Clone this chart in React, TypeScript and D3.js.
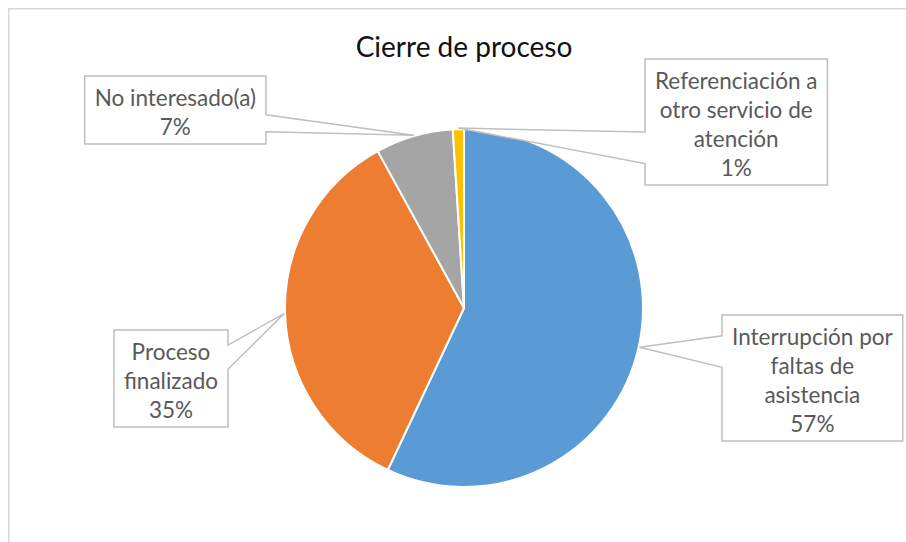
import React, { useRef, useEffect } from "react";
import * as d3 from "d3";

// chart data
const categories = [
  "Interrupción por faltas de asistencia",
  "Proceso finalizado",
  "No interesado(a)",
  "Referenciación a otro servicio de atención",
];
const values = [57, 35, 7, 1];
const labelLines = [
  ["Interrupción por", "faltas de", "asistencia"],
  ["Proceso", "finalizado"],
  ["No interesado(a)"],
  ["Referenciación a", "otro servicio de", "atención"],
];
const colors = ["#5B9BD5", "#ED7D31", "#A5A5A5", "#FFC000"];
const title = "Cierre de proceso";

// callout placement (which side the pointer leaves from, box edge, box top, notch start as share of height)
const calloutLayout = [
  { side: "left", edge: 722, top: 315, notch: 0.165 },
  { side: "right", edge: 228, top: 330, notch: 0.155 },
  { side: "right", edge: 266, top: 76, notch: 0.57 },
  { side: "left", edge: 645, top: 59, notch: 0.58 },
];

const W = 906;
const H = 542;
const FONT = "Lato, 'Open Sans', sans-serif";

const App = () => {
  const svgRef = useRef<SVGSVGElement>(null);

  useEffect(() => {
    const svg = d3.select(svgRef.current);
    svg.selectAll("*").remove();

    // chart frame (runs off the right/bottom edge like the screenshot)
    svg
      .append("rect")
      .attr("x", 8.75)
      .attr("y", 8.75)
      .attr("width", W + 20)
      .attr("height", H + 20)
      .attr("fill", "#fff")
      .attr("stroke", "#D9D9D9")
      .attr("stroke-width", 1.5);

    svg
      .append("text")
      .attr("x", 464)
      .attr("y", 57)
      .attr("text-anchor", "middle")
      .attr("font-family", FONT)
      .attr("font-size", 28)
      .attr("fill", "#111")
      .text(title);

    const cx = 464;
    const cy = 308;
    const r = 179;
    const total = d3.sum(values);
    const fmt = d3.format(".0%");

    const pie = d3
      .pie<number>()
      .sort(null)
      .value((d) => d);
    const arcs = pie(values);
    const arc = d3.arc<d3.PieArcDatum<number>>().innerRadius(0).outerRadius(r);

    const g = svg.append("g").attr("transform", `translate(${cx},${cy})`);
    g.selectAll("path")
      .data(arcs)
      .enter()
      .append("path")
      .attr("d", arc)
      .attr("fill", (d, i) => colors[i])
      .attr("stroke", "#fff")
      .attr("stroke-width", 2);

    const lineH = 29;
    const labels = svg.append("g");

    arcs.forEach((a, i) => {
      const lay = calloutLayout[i];
      const lines = [...labelLines[i], fmt(values[i] / total)];
      const grp = labels.append("g").attr("aria-label", categories[i]);
      const box = grp.append("path");

      const txt = grp
        .append("text")
        .attr("font-family", FONT)
        .attr("font-size", 22.5)
        .attr("fill", "#595959")
        .attr("text-anchor", "middle");
      const spans = lines.map((l) => txt.append("tspan").text(l));
      const widths = spans.map((s) => (s.node() as SVGTSpanElement).getComputedTextLength());
      const w = (d3.max(widths) || 0) + 20;
      const h = lines.length * lineH + 10;

      const L = lay.side === "left" ? lay.edge : lay.edge - w;
      const R = L + w;
      const T = lay.top;
      const B = T + h;
      const y1 = T + lay.notch * h;
      const y2 = y1 + 0.25 * h;

      const mid = (a.startAngle + a.endAngle) / 2;
      const tx = cx + (r + 1) * Math.sin(mid);
      const ty = cy - (r + 1) * Math.cos(mid);

      const p =
        lay.side === "left"
          ? `M${L},${T}H${R}V${B}H${L}V${y2}L${tx},${ty}L${L},${y1}Z`
          : `M${L},${T}H${R}V${y1}L${tx},${ty}L${R},${y2}V${B}H${L}Z`;
      box
        .attr("d", p)
        .attr("fill", "#fff")
        .attr("stroke", "#BFBFBF")
        .attr("stroke-width", 1.5);

      spans.forEach((s, j) => {
        s.attr("x", (L + R) / 2)
          .attr("y", T + 7 + lineH * (j + 0.5))
          .attr("dominant-baseline", "central");
      });
    });
  }, []);

  return (
    <svg
      ref={svgRef}
      width={W}
      height={H}
      style={{ position: "absolute", left: 0, top: 0, background: "#fff" }}
    ></svg>
  );
};

export default App;
